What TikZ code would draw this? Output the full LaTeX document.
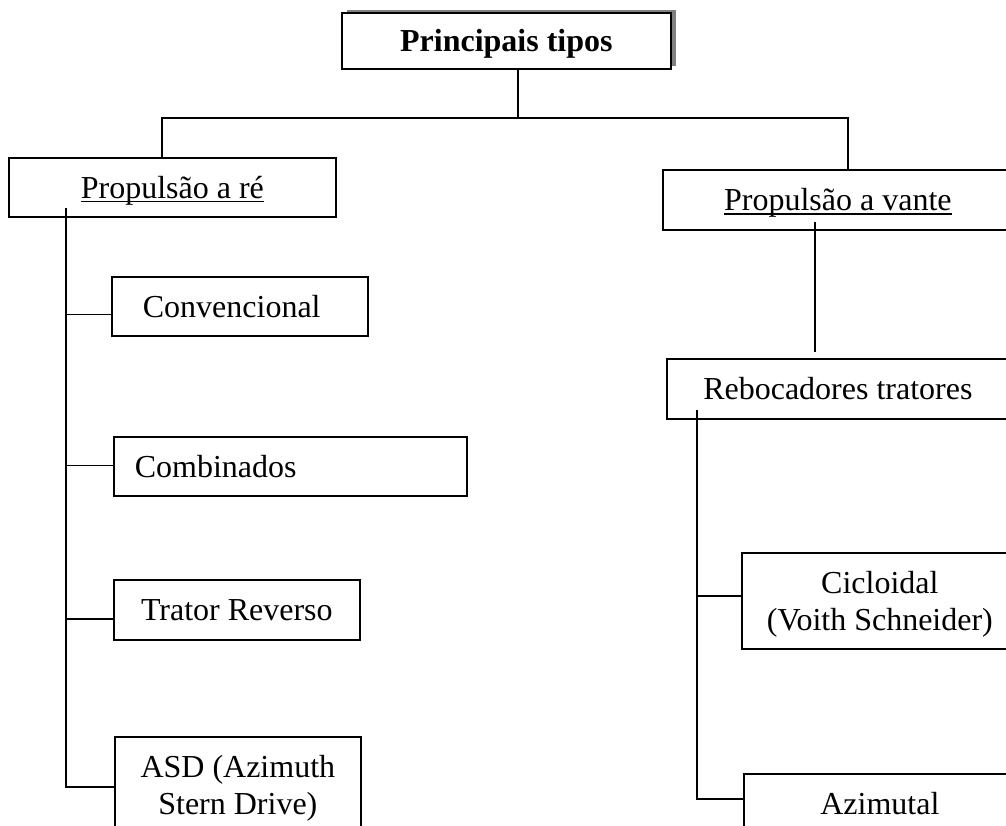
\documentclass[tikz,border=0pt]{standalone}
\usepackage{fontspec}
\setmainfont{Liberation Serif}
\usetikzlibrary{positioning,calc,shadows}

\newcommand{\sublinha}[1]{{\setbox0\hbox{#1}\rlap{\rule[-4pt]{\wd0}{1.6pt}}\box0}}

\begin{document}
\begin{tikzpicture}
            [
            x=1pt, y=-1pt, line width=1.7pt,
            caixa/.style 2 args={draw, rectangle, anchor=north west, inner sep=0pt,
                minimum width=#1pt, minimum height=#2pt, align=center,
                font=\fontsize{32}{37}\selectfont, text height=22pt, text depth=0pt},
            duas linhas/.style={text height=59pt},
            titulo/.style={fill=white, font=\fontsize{32}{37}\selectfont\bfseries,
                drop shadow={shadow xshift=5pt, shadow yshift=3pt, fill=gray, opacity=1}}
            ]

            \useasboundingbox (0,0) rectangle (1006,826);
            \clip (0,0) rectangle (1006,826);

            \node (tipos) [caixa={329}{56}, titulo] at (341,12) {Principais tipos};

            \node (re) [caixa={327}{59}] at (8,157) {\sublinha{Propulsão a ré}};
            \node (vante) [caixa={350}{60}] at (662,169) {\sublinha{Propulsão a vante}};

            % Propulsao a re
            \node (conv) [caixa={256}{59}, text width=194pt, align=left, inner xsep=31pt]
                at (111,276) {Convencional};
            \node (comb) [caixa={353}{59}, text width=311pt, align=left, inner xsep=21pt]
                at (113,436) {Combinados};
            \node (trator) [caixa={246}{60}] at (113,579) {Trator Reverso};
            \node (asd) [caixa={246}{96}, duas linhas] at (114,736) {ASD (Azimuth\\Stern Drive)};

            % Propulsao a vante
            \node (reb) [caixa={342}{60}] at (666,358) {Rebocadores tratores};
            \node (cic) [caixa={276}{96}, duas linhas] at (741,552) {Cicloidal\\(Voith Schneider)};
            \node (azi) [caixa={272}{60}] at (743,773) {Azimutal};

            \coordinate (barraE) at (162,118);
            \coordinate (barraM) at (518,118);
            \coordinate (barraD) at (848,118);
            \coordinate (topoE) at (66,208);
            \coordinate (topoD1) at (815,222);
            \coordinate (topoD2) at (697,410);

            \draw (tipos.south -| barraM) -- (barraM);
            \draw (re.north -| barraE) -- (barraE) -- (barraD) -- (vante.north -| barraD);

            \draw (topoE) |- ($(asd.west)+(0,2)$);
            \foreach \n/\d in {conv/8, comb/-1, trator/9}{
                \draw ($(\n.west -| topoE)+(0,\d)$) -- ($(\n.west)+(0,\d)$);
            }

            \draw (topoD1) -- ($(topoD1 |- reb.north)+(0,-6)$);
            \draw (topoD2) |- ($(azi.west)+(0,-5)$);
            \draw ($(cic.west -| topoD2)+(0,-5)$) -- ($(cic.west)+(0,-5)$);

        \end{tikzpicture}
\end{document}
